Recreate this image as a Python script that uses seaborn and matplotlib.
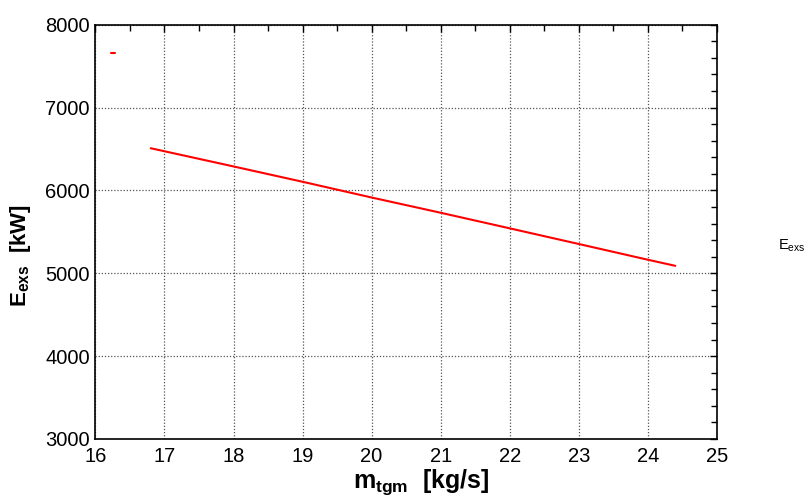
#!/usr/bin/env python3
"""Exergy of exhaust gas vs. gas mass flow (EES style plot)."""

import matplotlib
matplotlib.use("Agg")
import matplotlib.pyplot as plt
import seaborn as sns
from matplotlib.lines import Line2D
from matplotlib.ticker import MultipleLocator

# values
m_tgm = [16.8, 18, 19, 20, 21, 22, 23, 24, 24.4]
e_exs = [6510, 6290, 6105, 5915, 5731, 5543, 5354, 5164, 5090]

x_ticks = [16, 17, 18, 19, 20, 21, 22, 23, 24, 25]
y_ticks = [3000, 4000, 5000, 6000, 7000, 8000]

sns.set_style("white")
plt.rcParams["font.family"] = ["Liberation Sans", "DejaVu Sans"]
plt.rcParams["text.color"] = "black"
plt.rcParams["axes.labelcolor"] = "black"
plt.rcParams["mathtext.fontset"] = "custom"
plt.rcParams["mathtext.rm"] = "Liberation Sans"
plt.rcParams["mathtext.it"] = "Liberation Sans"
plt.rcParams["mathtext.bf"] = "Liberation Sans:bold"

fig = plt.figure(figsize=(8.09, 4.96), dpi=100)
ax = fig.add_axes([0.118, 0.115, 0.768, 0.835])

sns.lineplot(x=m_tgm, y=e_exs, ax=ax, color="#ff0000", linewidth=1.5,
             legend=False)

ax.set_xlim(16, 25)
ax.set_ylim(3000, 8000)
ax.set_xticks(x_ticks)
ax.set_yticks(y_ticks)
ax.xaxis.set_minor_locator(MultipleLocator(0.5))
ax.yaxis.set_minor_locator(MultipleLocator(200))

ax.tick_params(which="both", direction="in", top=True, right=True,
               colors="black", labelsize=14.5)
ax.tick_params(which="major", length=5, width=1)
ax.tick_params(which="minor", length=4, width=1)
ax.tick_params(axis="x", pad=6)
ax.tick_params(axis="y", pad=4)

ax.grid(True, which="major", linestyle=(0, (1, 1.5)), color="#555555",
        linewidth=0.9)

for sp in ax.spines.values():
    sp.set_color("black")
    sp.set_linewidth(1.2)

ax.set_xlabel(r"$\mathbf{m_{tgm}}$  [kg/s]", fontsize=18, fontweight="bold",
              color="black")
ax.set_ylabel(r"$\mathbf{E_{exs}}$  [kW]", fontsize=16, fontweight="bold",
              color="black")
ax.xaxis.set_label_coords(0.524, -0.068)
ax.yaxis.set_label_coords(-0.1, 0.444)

# EES style legend: short dash inside the plot, label outside at right
ax.add_line(Line2D([0.025, 0.032], [0.932, 0.932], transform=ax.transAxes,
                   color="#ff0000", linewidth=1.5))
fig.text(0.9615, 0.496, r"E$_{\mathregular{exs}}$", fontsize=10.5,
         color="black")

plt.savefig("out.png", dpi=100)
plt.close()
